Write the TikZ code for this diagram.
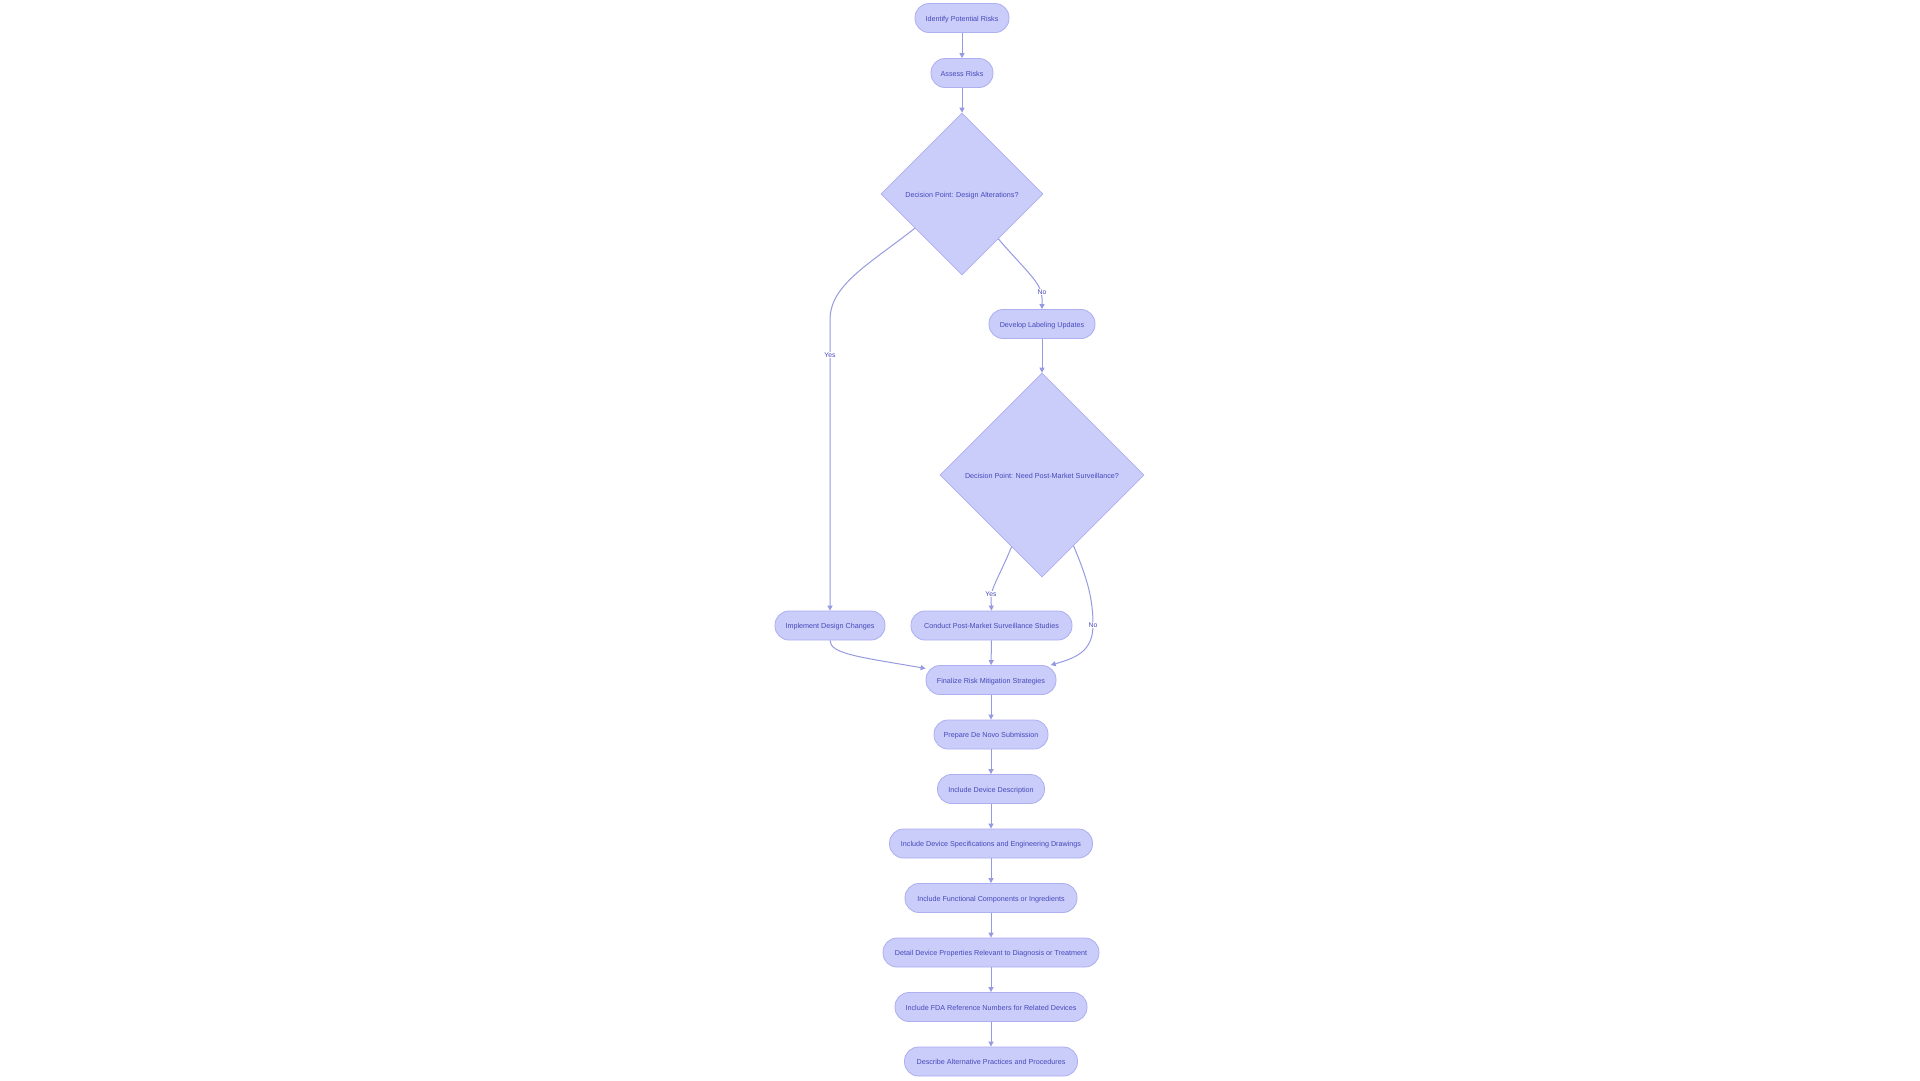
\documentclass[tikz,border=0pt]{standalone}
\usepackage{fontspec}
\setmainfont{Liberation Sans}
\usetikzlibrary{shapes.geometric,arrows.meta}
\definecolor{nodefill}{RGB}{202,204,250}
\definecolor{nodeborder}{RGB}{172,175,240}
\definecolor{edgecol}{RGB}{150,155,225}
\definecolor{nodetext}{RGB}{70,74,185}
\newcommand{\nfont}{\fontsize{7.2}{8}\selectfont}
\newcommand{\lfont}{\fontsize{6.8}{8}\selectfont}
\tikzset{
  pill/.style={draw=nodeborder, fill=nodefill, rounded corners=14pt, minimum height=29pt, inner sep=0pt, font=\nfont, text=nodetext, line width=0.8pt, text height=7.5pt, text depth=1.5pt},
  dia/.style={diamond, draw=nodeborder, fill=nodefill, inner sep=0pt, font=\nfont, text=nodetext, line width=0.6pt, text height=7.5pt, text depth=1.5pt},
  conn/.style={draw=edgecol, line width=1pt, -{Triangle[length=5pt,width=5pt]}},
  lbl/.style={fill=white, inner sep=1pt, font=\lfont, text=nodetext}
}
\begin{document}
\begin{tikzpicture}[x=1pt,y=-1pt]
\useasboundingbox[fill=white] (0,0) rectangle (1920,1080);
% nodes
\node[pill, minimum width=94pt] (idr) at (962,18) {Identify Potential Risks};
\node[pill, minimum width=62pt] (ass) at (962,73) {Assess Risks};
\node[dia, minimum width=162pt, minimum height=162pt] (d1) at (962,194) {Decision Point: Design Alterations?};
\node[pill, minimum width=106pt] (dev) at (1042,324) {Develop Labeling Updates};
\node[dia, minimum width=204pt, minimum height=204pt] (d2) at (1042,475) {Decision Point: Need Post-Market Surveillance?};
\node[pill, minimum width=110pt] (impl) at (830,625.5) {Implement Design Changes};
\node[pill, minimum width=161pt] (cond) at (991.5,625.5) {Conduct Post-Market Surveillance Studies};
\node[pill, minimum width=130pt] (fin) at (991,680) {Finalize Risk Mitigation Strategies};
\node[pill, minimum width=114pt] (prep) at (991,734.5) {Prepare De Novo Submission};
\node[pill, minimum width=107pt] (desc) at (991,789) {Include Device Description};
\node[pill, minimum width=203pt] (spec) at (991,843.5) {Include Device Specifications and Engineering Drawings};
\node[pill, minimum width=172pt] (func) at (991,898) {Include Functional Components or Ingredients};
\node[pill, minimum width=216pt] (det) at (991,952.5) {Detail Device Properties Relevant to Diagnosis or Treatment};
\node[pill, minimum width=192pt] (fda) at (991,1007) {Include FDA Reference Numbers for Related Devices};
\node[pill, minimum width=173pt] (alt) at (991,1061.5) {Describe Alternative Practices and Procedures};
% connectors
\draw[conn] (idr) -- (ass);
\draw[conn] (ass) -- (d1);
\draw[conn] (d1.216.7) .. controls (868,265) and (830,285) .. (830,320) -- (impl.north);
\draw[conn] (d1.-51) .. controls (1025,270) and (1042,283) .. (1042,298) -- (dev.north);
\draw[conn] (dev) -- (d2);
\draw[conn] (d2.247.4) .. controls (1000,575) and (991,588) .. (991,598) -- (cond.north);
\draw[conn] (d2.-66) .. controls (1088,580) and (1093,600) .. (1093,625) .. controls (1093,652) and (1075,658) .. (fin.14);
\draw[conn] (impl.south) .. controls (830,654) and (860,657) .. (fin.170);
\draw[conn] (cond) -- (fin);
\draw[conn] (fin) -- (prep);
\draw[conn] (prep) -- (desc);
\draw[conn] (desc) -- (spec);
\draw[conn] (spec) -- (func);
\draw[conn] (func) -- (det);
\draw[conn] (det) -- (fda);
\draw[conn] (fda) -- (alt);
% labels
\node[lbl] (lyes1) at (830,355) {Yes};
\node[lbl] (lno1) at (1042,292) {No};
\node[lbl] (lyes2) at (991,594) {Yes};
\node[lbl] (lno2) at (1093,625) {No};
\end{tikzpicture}
\end{document}
